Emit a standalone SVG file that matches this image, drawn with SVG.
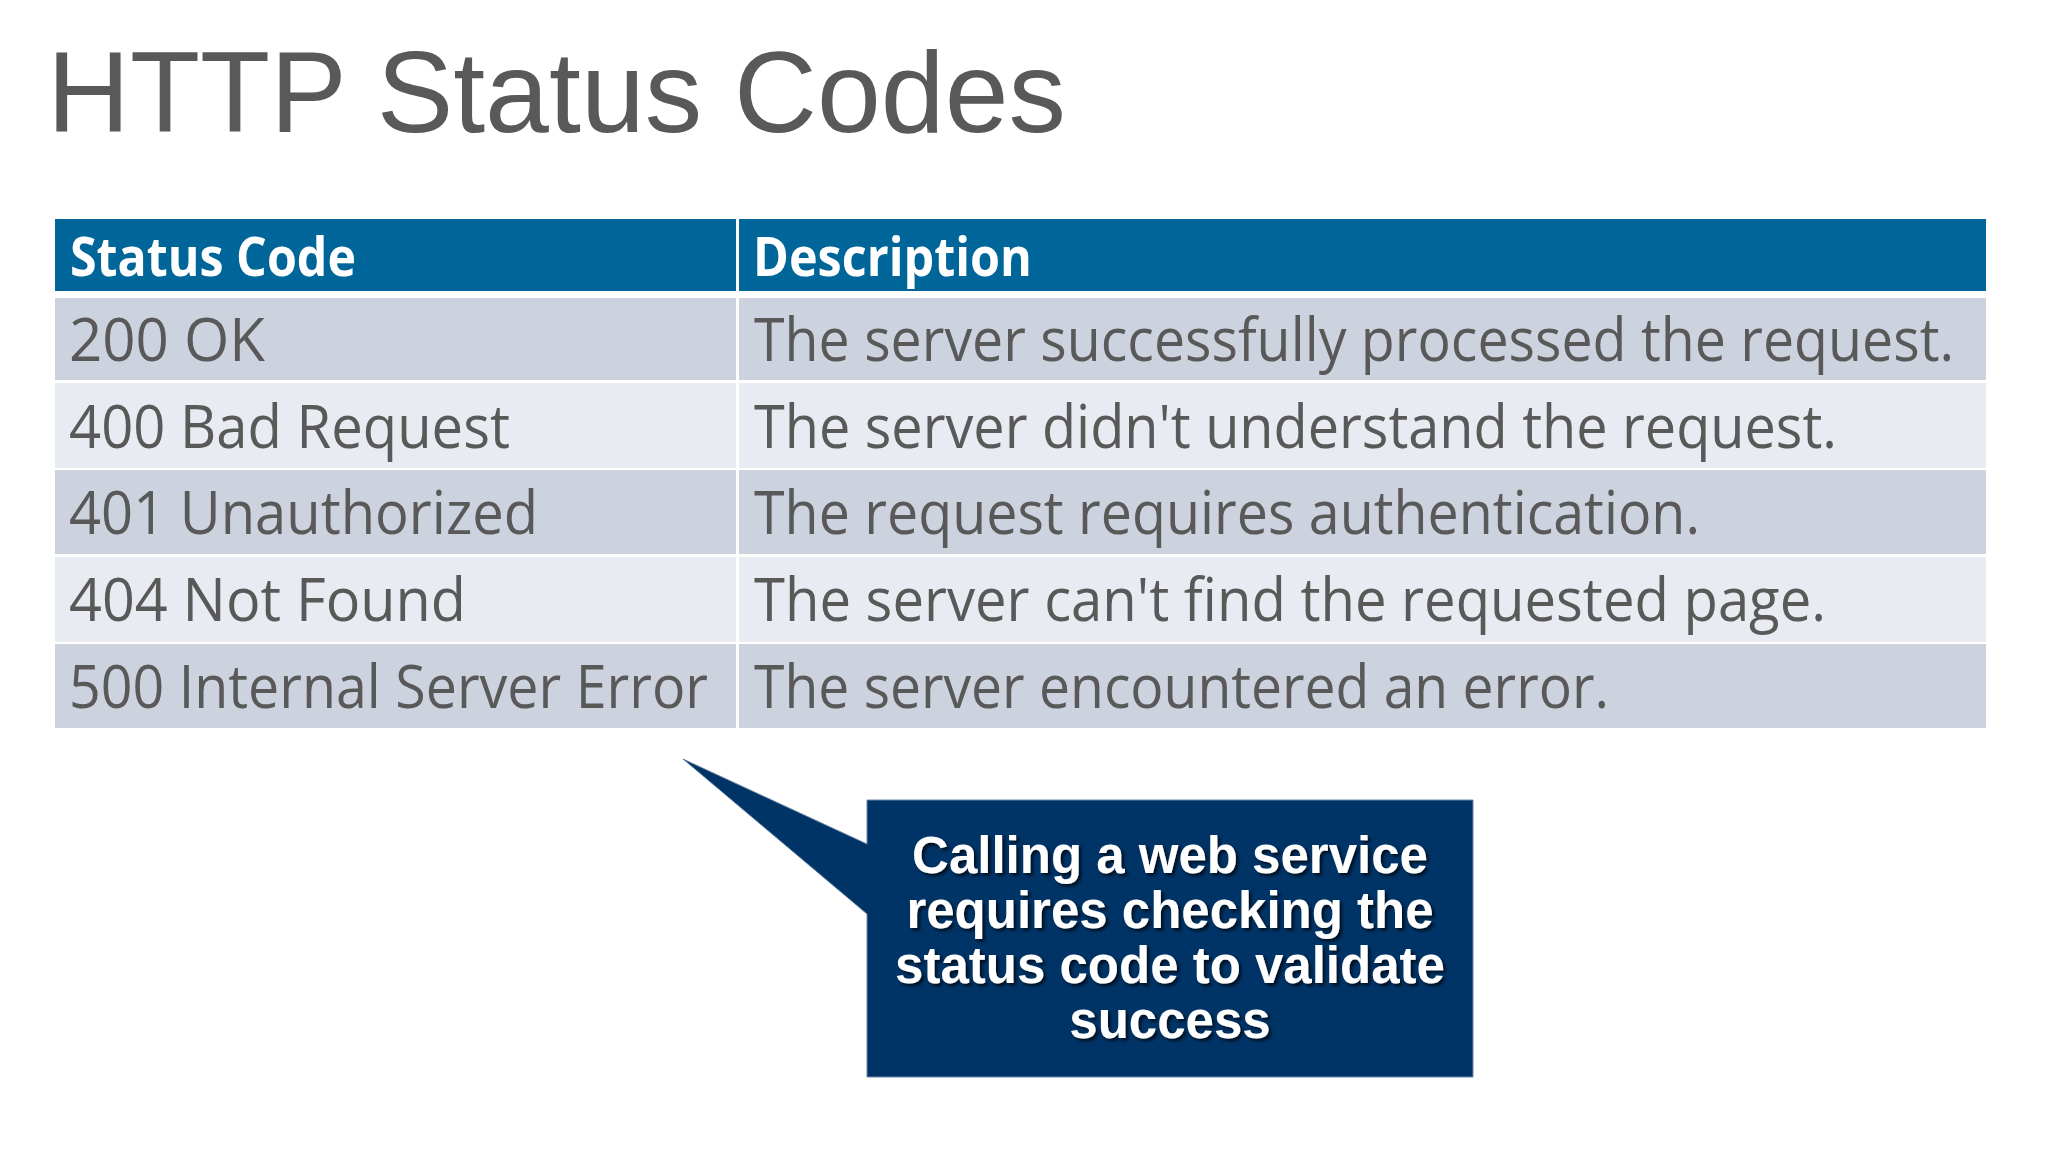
<svg xmlns="http://www.w3.org/2000/svg" width="2048" height="1152" viewBox="0 0 2048 1152">
  <defs>
    <style>
      .title { font-family: "Liberation Sans", Arial, sans-serif; font-size: 115px; fill: #595959; }
      .hdr { fill: #006699; }
      .rowD { fill: #CDD3DE; }
      .rowL { fill: #E8EBF2; }
      .htxt { font-family: "Open Sans", "Noto Sans", sans-serif; font-weight: 700; font-size: 53px; fill: #FFFFFF; }
      .ctxt { font-family: "Open Sans", "Noto Sans", sans-serif; font-size: 61px; fill: #595959; }
      .callout { fill: #003366; stroke: #6c87a6; stroke-width: 1; }
      .calltxt { font-family: "Liberation Sans", Arial, sans-serif; font-weight: 700; font-size: 51px; fill: #FFFFFF; text-anchor: middle; }
    </style>
    <filter id="shadow" x="-10%" y="-30%" width="120%" height="160%">
      <feDropShadow dx="2.5" dy="2.5" stdDeviation="1.5" flood-color="#000000" flood-opacity="0.7"/>
    </filter>
  </defs>

  <rect x="0" y="0" width="2048" height="1152" fill="#FFFFFF"/>

  <g id="title">
    <text class="title" x="47" y="132" textLength="1019" lengthAdjust="spacingAndGlyphs">HTTP Status Codes</text>
  </g>

  <g id="table">
    <g id="header">
      <rect class="hdr" x="55" y="219" width="681" height="72"/>
      <rect class="hdr" x="739" y="219" width="1247" height="72"/>
      <text class="htxt" x="70" y="276" textLength="286" lengthAdjust="spacingAndGlyphs">Status Code</text>
      <text class="htxt" x="753" y="276" textLength="279" lengthAdjust="spacingAndGlyphs">Description</text>
    </g>
    <g id="row-200">
      <rect class="rowD" x="55" y="298" width="681" height="82"/>
      <rect class="rowD" x="739" y="298" width="1247" height="82"/>
      <text class="ctxt" x="69" y="361" textLength="196" lengthAdjust="spacingAndGlyphs">200 OK</text>
      <text class="ctxt" x="754" y="361" textLength="1200" lengthAdjust="spacingAndGlyphs">The server successfully processed the request.</text>
    </g>
    <g id="row-400">
      <rect class="rowL" x="55" y="383" width="681" height="85"/>
      <rect class="rowL" x="739" y="383" width="1247" height="85"/>
      <text class="ctxt" x="69" y="448" textLength="441" lengthAdjust="spacingAndGlyphs">400 Bad Request</text>
      <text class="ctxt" x="754" y="448" textLength="1083" lengthAdjust="spacingAndGlyphs">The server didn't understand the request.</text>
    </g>
    <g id="row-401">
      <rect class="rowD" x="55" y="470" width="681" height="84"/>
      <rect class="rowD" x="739" y="470" width="1247" height="84"/>
      <text class="ctxt" x="69" y="534" textLength="469" lengthAdjust="spacingAndGlyphs">401 Unauthorized</text>
      <text class="ctxt" x="754" y="534" textLength="946" lengthAdjust="spacingAndGlyphs">The request requires authentication.</text>
    </g>
    <g id="row-404">
      <rect class="rowL" x="55" y="557" width="681" height="85"/>
      <rect class="rowL" x="739" y="557" width="1247" height="85"/>
      <text class="ctxt" x="69" y="621" textLength="397" lengthAdjust="spacingAndGlyphs">404 Not Found</text>
      <text class="ctxt" x="754" y="621" textLength="1072" lengthAdjust="spacingAndGlyphs">The server can't find the requested page.</text>
    </g>
    <g id="row-500">
      <rect class="rowD" x="55" y="644" width="681" height="84"/>
      <rect class="rowD" x="739" y="644" width="1247" height="84"/>
      <text class="ctxt" x="69" y="708" textLength="639" lengthAdjust="spacingAndGlyphs">500 Internal Server Error</text>
      <text class="ctxt" x="754" y="708" textLength="855" lengthAdjust="spacingAndGlyphs">The server encountered an error.</text>
    </g>
  </g>

  <g id="callout">
    <path class="callout" d="M867,800 H1473 V1077 H867 V914 L683,759 L867,844 Z"/>
    <g filter="url(#shadow)">
      <text class="calltxt" x="1170" y="873">Calling a web service</text>
      <text class="calltxt" x="1170" y="928">requires checking the</text>
      <text class="calltxt" x="1170" y="983">status code to validate</text>
      <text class="calltxt" x="1170" y="1038">success</text>
    </g>
  </g>
</svg>
